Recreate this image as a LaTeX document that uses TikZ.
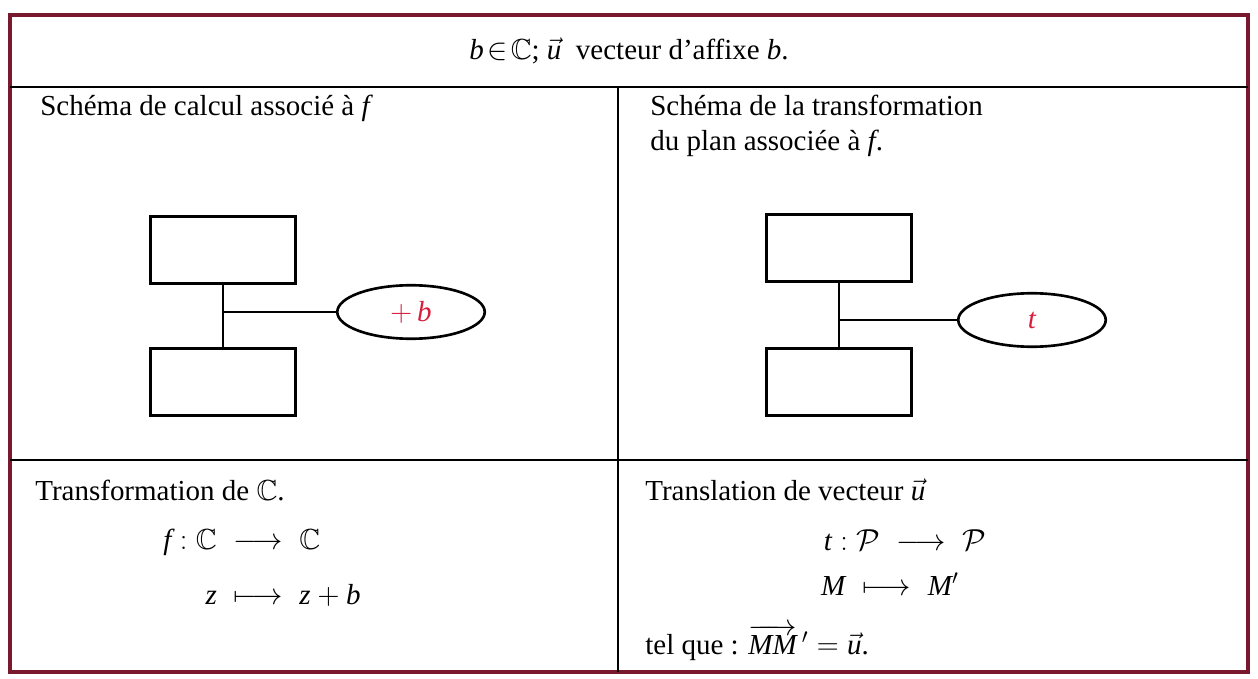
\documentclass[tikz,border=0pt]{standalone}
\usepackage{amsmath,amssymb}
\usepackage{fontspec}
\setmainfont{Liberation Serif}
\usetikzlibrary{shapes.geometric,positioning}

% italic letters of the formulas taken from the text font
\DeclareSymbolFont{txtit}{\encodingdefault}{\rmdefault}{m}{it}
\DeclareMathSymbol{b}{\mathalpha}{txtit}{`b}
\DeclareMathSymbol{f}{\mathalpha}{txtit}{`f}
\DeclareMathSymbol{t}{\mathalpha}{txtit}{`t}
\DeclareMathSymbol{u}{\mathalpha}{txtit}{`u}
\DeclareMathSymbol{z}{\mathalpha}{txtit}{`z}
\DeclareMathSymbol{M}{\mathalpha}{txtit}{`M}

\definecolor{framered}{RGB}{120,25,45}
\definecolor{inkred}{RGB}{215,30,60}

\begin{document}
\begin{tikzpicture}[
        x=0.02cm, y=-0.02cm,
        font=\fontsize{16.5}{20}\selectfont,
        cell/.style={rectangle, draw=black, line width=1.5pt, minimum width=2.9cm, minimum height=1.35cm},
        op/.style={ellipse, draw=black, line width=1.5pt, minimum width=2.95cm, minimum height=1.07cm,
                   inner sep=0pt, text=inkred},
        wire/.style={line width=1.5pt},
        tabrule/.style={line width=1.5pt},
        caption/.style={anchor=west, inner sep=0pt, align=left},
        formula/.style={inner sep=1pt}
    ]
        \useasboundingbox (0,0) rectangle (1258,679);
        % frame of the table
        \draw[framered, line width=2pt] (10,15) rectangle (1248,672);
        \draw[tabrule] (10,87) -- (1248,87);
        \draw[tabrule] (10,460) -- (1248,460);
        \draw[tabrule] (618,87) -- (618,672);

        \node (head) at (629,51) {$b\!\in\!\mathbb{C}$;\ $\vec{u}$\ \ vecteur d'affixe $b$.};

        % schema de calcul
        \node[caption, anchor=north west] (calc) at (40,95) {Schéma de calcul associé à $f$};
        \node[cell] (inL) at (223,250) {};
        \node[cell] (outL) at (223,382) {};
        \node[op] (addb) at (411,312) {$+\,b$};
        \draw[wire] (inL) -- (outL);
        \draw[wire] (addb.west) -- (addb.west -| inL.south);

        % schema de la transformation
        \node[caption, anchor=north west] (plan) at (650,95) {Schéma de la transformation\\du plan associée à $f$.};
        \node[cell] (inR) at (839,248) {};
        \node[cell] (outR) at (839,382) {};
        \node[op] (trans) at (1032,320) {$t$};
        \draw[wire] (inR) -- (outR);
        \draw[wire] (trans.west) -- (trans.west -| inR.south);

        % transformations
        \node[caption] (trC) at (35,490) {Transformation de $\mathbb{C}$.};
        \node[formula] (fdef) at (262,570) {$\begin{array}{r@{\;\;}c@{\;\;}l}
            f:\mathbb{C} & \longrightarrow & \mathbb{C}\\[11pt]
            z & \longmapsto & z+b
        \end{array}$};
        \node[caption] (trU) at (645,490) {Translation de vecteur $\vec{u}$};
        \node[formula] (tdef) at (905,540) {$t:\mathcal{P}\;\longrightarrow\;\mathcal{P}$};
        \node[formula] (mdef) at (890,584) {$M\;\longmapsto\;M'$};
        \node[caption] (telq) at (645,643) {tel que : $\overrightarrow{MM}\,'=\vec{u}$.};
    \end{tikzpicture}
\end{document}
